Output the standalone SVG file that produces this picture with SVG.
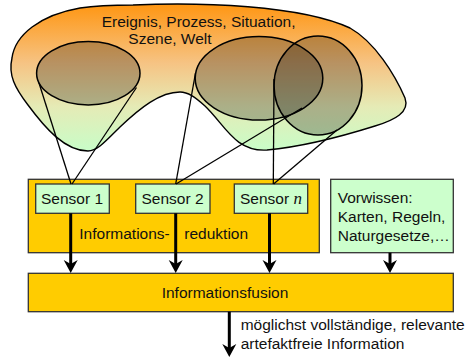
<svg xmlns="http://www.w3.org/2000/svg" width="472" height="358" viewBox="0 0 472 358">
<defs>
<linearGradient id="blobGrad" x1="0" y1="0" x2="0" y2="1">
<stop offset="0" stop-color="#FF9612"/>
<stop offset="0.4" stop-color="#F6C383"/>
<stop offset="0.7" stop-color="#E5EBB6"/>
<stop offset="1" stop-color="#C8FDC8"/>
</linearGradient>
<marker id="ah" viewBox="-1 -8 15 16" refX="8" refY="0" markerWidth="15" markerHeight="16" markerUnits="userSpaceOnUse" orient="auto">
<path d="M0,-7 L13,0 L0,7 L4,0 Z" fill="#000"/>
</marker>
<style>
.t{font-family:"Liberation Sans",Arial,sans-serif;font-size:15.5px;fill:#111}
.it{font-family:"Liberation Serif","Times New Roman",serif;font-style:italic;font-size:17px}
.ell{fill:#000;fill-opacity:0.25;stroke:#000;stroke-width:1.5}
.ray{stroke:#000;stroke-width:1.3;fill:none}
.box{fill:#FFCC00;stroke:#333;stroke-width:1.3}
.sens{fill:#CCFFCC;stroke:#333;stroke-width:1.3}
.arr{stroke:#000;stroke-width:3;fill:none;marker-end:url(#ah)}
</style>
</defs>

<g id="world">
<path d="M133,5 C200,2 300,5 350,28 C375,42 395,75 405,98 C410,112 395,120 375,126 C340,137 300,147 267,150 C235,152 225,125 205,106 C195,97 188,92 180,92 C160,92 140,108 120,127 C105,142 97,151 88,151 C65,151 45,128 28,105 C15,88 8,75 12,58 C15,35 40,15 80,8 C100,5 115,5 133,5 Z" fill="url(#blobGrad)" stroke="#000" stroke-width="1.4"/>
<text class="t" x="101.7" y="26.5">Ereignis, Prozess, Situation,</text>
<text class="t" x="128.3" y="44">Szene, Welt</text>
<ellipse class="ell" cx="88.3" cy="73.3" rx="51.7" ry="31.7"/>
<ellipse class="ell" cx="259" cy="78.3" rx="63.8" ry="41.7"/>
<ellipse class="ell" cx="318" cy="85.5" rx="44" ry="49.5"/>
</g>

<g id="reduction">
<rect class="box" x="28.3" y="179.3" width="291" height="73.4"/>
<text class="t" x="79.3" y="239">Informations-</text>
<text class="t" x="184.3" y="239">reduktion</text>
</g>

<g id="sensor1">
<rect class="sens" x="35.7" y="184" width="73.6" height="29.3"/>
<text class="t" x="72" y="203.5" text-anchor="middle">Sensor 1</text>
</g>
<g id="sensor2">
<rect class="sens" x="135.7" y="184" width="74.3" height="29.3"/>
<text class="t" x="172.5" y="203.5" text-anchor="middle">Sensor 2</text>
</g>
<g id="sensorn">
<rect class="sens" x="234.3" y="184" width="73.4" height="29.3"/>
<text class="t" x="240" y="203.5">Sensor <tspan class="it">n</tspan></text>
</g>

<g id="vorwissen">
<rect class="sens" x="330.7" y="179.3" width="122.6" height="73.4"/>
<text class="t" x="337.7" y="203.3">Vorwissen:</text>
<text class="t" x="337.7" y="222">Karten, Regeln,</text>
<text class="t" x="337.7" y="240.7">Naturgesetze,…</text>
</g>

<g id="fusion">
<rect class="box" x="28.3" y="273.3" width="425" height="38.4"/>
<text class="t" x="225" y="297.7" text-anchor="middle">Informationsfusion</text>
</g>

<g id="output-label">
<text class="t" x="240.7" y="330">möglichst vollständige, relevante</text>
<text class="t" x="240.7" y="349.3">artefaktfreie Information</text>
</g>

<g id="connectors">
<line class="ray" x1="39" y1="83" x2="71" y2="184"/>
<line class="ray" x1="136.5" y1="87.5" x2="72" y2="184"/>
<line class="ray" x1="195.5" y1="73" x2="175.7" y2="184"/>
<line class="ray" x1="302" y1="108" x2="176" y2="184"/>
<line class="ray" x1="274" y1="79" x2="273.3" y2="184"/>
<line class="ray" x1="337" y1="130" x2="273.6" y2="184"/>
<line class="arr" x1="70.7" y1="213.3" x2="70.7" y2="268"/>
<line class="arr" x1="175.7" y1="213.3" x2="175.7" y2="268"/>
<line class="arr" x1="269.5" y1="213.3" x2="269.5" y2="268"/>
<line class="arr" x1="390" y1="252.7" x2="390" y2="268"/>
<line class="arr" x1="229.3" y1="311.7" x2="229.3" y2="352"/>
</g>
</svg>
